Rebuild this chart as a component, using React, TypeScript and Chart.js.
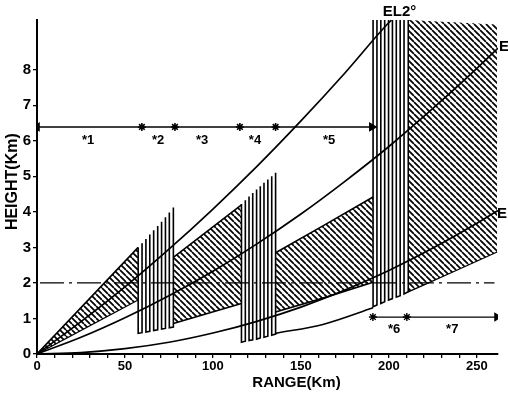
import React, { useEffect, useRef } from 'react';
import { Chart, registerables } from 'chart.js';

Chart.register(...registerables);

// ---- axes ----
const X_MAX = 262;
const Y_MAX = 9.4;
const X_LABELED_TICKS = [0, 50, 100, 150, 200, 250];
const Y_LABELED_TICKS = [0, 1, 2, 3, 4, 5, 6, 7, 8];

// ---- elevation curves (range km -> height km) ----
const CURVE_RANGE = [0, 25, 50, 75, 100, 125, 150, 175, 200, 225, 250, 262];
const EL0_HEIGHT = [0, 0.04, 0.15, 0.33, 0.59, 0.92, 1.32, 1.8, 2.35, 2.98, 3.68, 4.04];
const EL1_HEIGHT = [0, 0.47, 1.02, 1.64, 2.33, 3.1, 3.94, 4.86, 5.84, 6.91, 8.04, 8.61];
const EL2_RANGE = [0, 25, 50, 75, 100, 125, 150, 175, 200, 201.5];
const EL2_HEIGHT = [0, 0.91, 1.89, 2.95, 4.08, 5.28, 6.56, 7.91, 9.33, 9.4];

// ---- hatched coverage zones ----
const ZONE1_TOP_RANGE = [0, 57.5];
const ZONE1_TOP_HEIGHT = [0, 3.0];
const ZONE1_BOT_RANGE = [0, 57.5];
const ZONE1_BOT_HEIGHT = [0, 1.52];

const ZONE3_TOP_RANGE = [77.5, 116.2];
const ZONE3_TOP_HEIGHT = [2.72, 4.2];
const ZONE3_BOT_RANGE = [77.5, 116.2];
const ZONE3_BOT_HEIGHT = [0.86, 1.42];

const ZONE5_TOP_RANGE = [135.6, 163, 191];
const ZONE5_TOP_HEIGHT = [2.85, 3.62, 4.42];
const ZONE5_BOT_RANGE = [135.6, 163, 191];
const ZONE5_BOT_HEIGHT = [1.18, 1.58, 2.02];
const ZONE5_LOWER_RANGE = [135.6, 163, 191];
const ZONE5_LOWER_HEIGHT = [0.58, 0.84, 1.3];

const ZONE7_TOP_RANGE = [211, 261.5];
const ZONE7_TOP_HEIGHT = [9.4, 9.27];
const ZONE7_BOT_RANGE = [211, 236, 261.5];
const ZONE7_BOT_HEIGHT = [1.75, 2.3, 2.87];

// ---- vertical line bundles ----
const ZONE2_RANGE = [57.5, 59.7, 61.9, 64.1, 66.3, 68.6, 70.8, 73.0, 75.2, 77.5];
const ZONE2_TOP = [3.0, 3.12, 3.24, 3.36, 3.48, 3.6, 3.72, 3.85, 3.98, 4.12];
const ZONE2_BOTTOM = [0.58, 0.6, 0.62, 0.64, 0.66, 0.68, 0.7, 0.72, 0.74, 0.76];

const ZONE4_RANGE = [116.2, 118.4, 120.5, 122.6, 124.8, 126.9, 129.0, 131.2, 133.4, 135.6];
const ZONE4_TOP = [4.22, 4.33, 4.43, 4.53, 4.63, 4.72, 4.82, 4.91, 5.0, 5.1];
const ZONE4_BOTTOM = [0.33, 0.36, 0.38, 0.4, 0.42, 0.45, 0.47, 0.5, 0.53, 0.56];

const ZONE6_RANGE = [191.0, 193.2, 195.4, 197.6, 199.8, 202.0, 204.2, 206.4, 208.6, 211.0];
const ZONE6_TOP = [9.4, 9.4, 9.4, 9.4, 9.4, 9.4, 9.4, 9.4, 9.4, 9.4];
const ZONE6_BOTTOM = [1.33, 1.38, 1.42, 1.47, 1.52, 1.56, 1.6, 1.64, 1.69, 1.75];

// ---- reference lines / arrows ----
const DASH_RANGE = [1.7, 260];
const DASH_HEIGHT = [2.0, 2.0];

const TOP_ARROW_RANGE = [0, 190.3];
const TOP_ARROW_HEIGHT = 6.39;
const TOP_MARK_RANGE = [0, 59.6, 78.4, 115.3, 135.6, 190.3];
const TOP_MARK_STYLE = ['triangle', 'star', 'star', 'star', 'star', 'triangle'];
const TOP_MARK_ROT = [-90, 0, 0, 0, 0, 90];

const BOT_ARROW_RANGE = [190.9, 261.4];
const BOT_ARROW_HEIGHT = 1.04;
const BOT_MARK_RANGE = [190.9, 210.2, 261.4];
const BOT_MARK_STYLE = ['star', 'star', 'triangle'];
const BOT_MARK_ROT = [0, 0, 90];

// ---- text annotations ----
const NOTE_TEXT = ['EL2°', 'EL1°', 'EL0°', '*1', '*2', '*3', '*4', '*5', '*6', '*7'];
const NOTE_RANGE = [206, 262.6, 261.5, 29, 68.8, 93.8, 123.9, 166, 203, 236];
const NOTE_HEIGHT = [9.63, 8.64, 3.94, 6.02, 6.02, 6.02, 6.02, 6.02, 0.68, 0.68];
const NOTE_ALIGN = ['center', 'left', 'left', 'center', 'center', 'center', 'center', 'center', 'center', 'center'];

const X_TITLE = 'RANGE(Km)';
const Y_TITLE = 'HEIGHT(Km)';

const FONT = "'Liberation Sans', Arial, sans-serif";

function pts(xs: number[], ys: number[]) {
  return xs.map((x, i) => ({ x, y: ys[i] }));
}

function comb(xs: number[], tops: number[], bots: number[]) {
  const out: { x: number; y: number | null }[] = [];
  for (let i = 0; i < xs.length; i += 2) {
    out.push({ x: xs[i], y: tops[i] });
    out.push({ x: xs[i], y: bots[i] });
    out.push({ x: xs[i + 1], y: bots[i + 1] });
    out.push({ x: xs[i + 1], y: tops[i + 1] });
    out.push({ x: xs[i + 1], y: null });
  }
  return out;
}

function makeHatch(): CanvasPattern | string {
  const s = 6;
  const c = document.createElement('canvas');
  c.width = s;
  c.height = s;
  const g = c.getContext('2d');
  if (!g) return 'rgba(0,0,0,0.3)';
  g.strokeStyle = '#000';
  g.lineWidth = 1.7;
  g.beginPath();
  for (const k of [-s, 0, s]) {
    g.moveTo(k, 0);
    g.lineTo(k + s, s);
  }
  g.stroke();
  return g.createPattern(c, 'repeat') || 'rgba(0,0,0,0.3)';
}

const notesPlugin = {
  id: 'notes',
  afterDraw(chart: any) {
    const { ctx, scales } = chart;
    const xs = scales.x;
    const ys = scales.y;
    ctx.save();
    ctx.fillStyle = '#000';
    ctx.textBaseline = 'middle';
    NOTE_TEXT.forEach((t, i) => {
      const big = t.startsWith('EL');
      ctx.font = `bold ${big ? 15 : 13}px ${FONT}`;
      ctx.textAlign = NOTE_ALIGN[i];
      ctx.fillText(t, xs.getPixelForValue(NOTE_RANGE[i]), ys.getPixelForValue(NOTE_HEIGHT[i]));
    });
    // axis titles
    ctx.font = `bold 15px ${FONT}`;
    ctx.textAlign = 'center';
    ctx.fillText(X_TITLE, xs.getPixelForValue(147.5), 383);
    ctx.save();
    ctx.translate(13, ys.getPixelForValue(4.85));
    ctx.rotate(-Math.PI / 2);
    ctx.font = `bold 16px ${FONT}`;
    ctx.fillText(Y_TITLE, 0, 0);
    ctx.restore();
    ctx.restore();
  },
};

export default function App() {
  const ref = useRef<HTMLCanvasElement | null>(null);

  useEffect(() => {
    if (!ref.current) return;
    const hatch = makeHatch();
    const line = (data: any[], extra: any = {}) => ({
      data,
      borderColor: '#000',
      borderWidth: 1.6,
      pointRadius: 0,
      fill: false,
      tension: 0,
      ...extra,
    });
    const curve = { cubicInterpolationMode: 'monotone' };

    const datasets: any[] = [
      line(pts(CURVE_RANGE, EL0_HEIGHT), { ...curve, borderWidth: 1.7 }),
      line(pts(CURVE_RANGE, EL1_HEIGHT), { ...curve, borderWidth: 1.7 }),
      line(pts(EL2_RANGE, EL2_HEIGHT), { ...curve, borderWidth: 1.7 }),
      // zone 1
      line(pts(ZONE1_TOP_RANGE, ZONE1_TOP_HEIGHT), { fill: '+1', backgroundColor: hatch }),
      line(pts(ZONE1_BOT_RANGE, ZONE1_BOT_HEIGHT), { borderWidth: 1.2 }),
      // zone 3
      line(pts(ZONE3_TOP_RANGE, ZONE3_TOP_HEIGHT), { fill: '+1', backgroundColor: hatch }),
      line(pts(ZONE3_BOT_RANGE, ZONE3_BOT_HEIGHT)),
      // zone 5
      line(pts(ZONE5_TOP_RANGE, ZONE5_TOP_HEIGHT), { fill: '+1', backgroundColor: hatch }),
      line(pts(ZONE5_BOT_RANGE, ZONE5_BOT_HEIGHT)),
      line(pts(ZONE5_LOWER_RANGE, ZONE5_LOWER_HEIGHT), { ...curve }),
      // zone 7
      line(pts(ZONE7_TOP_RANGE, ZONE7_TOP_HEIGHT), { fill: '+1', backgroundColor: hatch, borderWidth: 0 }),
      line(pts(ZONE7_BOT_RANGE, ZONE7_BOT_HEIGHT), { ...curve, borderWidth: 1.3 }),
      // vertical bundles
      line(comb(ZONE2_RANGE, ZONE2_TOP, ZONE2_BOTTOM), { borderWidth: 1.6 }),
      line(comb(ZONE4_RANGE, ZONE4_TOP, ZONE4_BOTTOM), { borderWidth: 1.6 }),
      line(comb(ZONE6_RANGE, ZONE6_TOP, ZONE6_BOTTOM), { borderWidth: 1.6 }),
      // dash-dot 2 km
      line(pts(DASH_RANGE, DASH_HEIGHT), { borderWidth: 1.2, borderDash: [24, 5, 3, 5] }),
      // arrows
      line(pts(TOP_ARROW_RANGE, TOP_ARROW_RANGE.map(() => TOP_ARROW_HEIGHT)), { borderWidth: 1.6 }),
      {
        data: pts(TOP_MARK_RANGE, TOP_MARK_RANGE.map(() => TOP_ARROW_HEIGHT)),
        showLine: false,
        pointStyle: TOP_MARK_STYLE,
        rotation: TOP_MARK_ROT,
        pointRadius: 4,
        borderColor: '#000',
        backgroundColor: '#000',
        borderWidth: 1.6,
      },
      line(pts(BOT_ARROW_RANGE, BOT_ARROW_RANGE.map(() => BOT_ARROW_HEIGHT)), { borderWidth: 1.3 }),
      {
        data: pts(BOT_MARK_RANGE, BOT_MARK_RANGE.map(() => BOT_ARROW_HEIGHT)),
        showLine: false,
        pointStyle: BOT_MARK_STYLE,
        rotation: BOT_MARK_ROT,
        pointRadius: 4,
        borderColor: '#000',
        backgroundColor: '#000',
        borderWidth: 1.4,
      },
    ];

    const chart = new Chart(ref.current, {
      type: 'line',
      data: { datasets },
      options: {
        animation: false,
        responsive: false,
        devicePixelRatio: 1,
        layout: { padding: { left: 0, top: 20, right: 10, bottom: 0 } },
        plugins: { legend: { display: false }, tooltip: { enabled: false } },
        elements: { line: { spanGaps: false } as any },
        scales: {
          x: {
            type: 'linear',
            min: 0,
            max: X_MAX,
            afterFit: (s: any) => {
              s.height = 41;
            },
            border: { display: true, color: '#000', width: 2 },
            grid: {
              drawOnChartArea: false,
              drawTicks: true,
              tickLength: 4,
              lineWidth: 1.3,
              color: (c: any) => (c.tick && c.tick.value <= 260 ? '#000' : 'rgba(0,0,0,0)'),
            },
            ticks: {
              stepSize: 10,
              autoSkip: false,
              maxRotation: 0,
              padding: 1,
              color: '#000',
              font: { family: FONT, size: 13, weight: 'bold' },
              callback: (v: any) => (X_LABELED_TICKS.includes(Number(v)) ? String(v) : ''),
            },
          },
          y: {
            type: 'linear',
            min: 0,
            max: Y_MAX,
            afterFit: (s: any) => {
              s.width = 37;
            },
            border: { display: true, color: '#000', width: 2 },
            grid: {
              drawOnChartArea: false,
              drawTicks: true,
              tickLength: 4,
              lineWidth: 1.3,
              color: (c: any) => (c.tick && c.tick.value <= 8 ? '#000' : 'rgba(0,0,0,0)'),
            },
            ticks: {
              stepSize: 1,
              autoSkip: false,
              padding: 2,
              color: '#000',
              font: { family: FONT, size: 15, weight: 'bold' },
              callback: (v: any) => (Y_LABELED_TICKS.includes(Number(v)) ? String(v) : ''),
            },
          },
        },
      } as any,
      plugins: [notesPlugin],
    });
    return () => chart.destroy();
  }, []);

  return (
    <div style={{ position: 'fixed', left: 0, top: 0, width: 508, height: 395, background: '#fff' }}>
      <canvas ref={ref} width={508} height={395} style={{ display: 'block', width: 508, height: 395 }} />
    </div>
  );
}
